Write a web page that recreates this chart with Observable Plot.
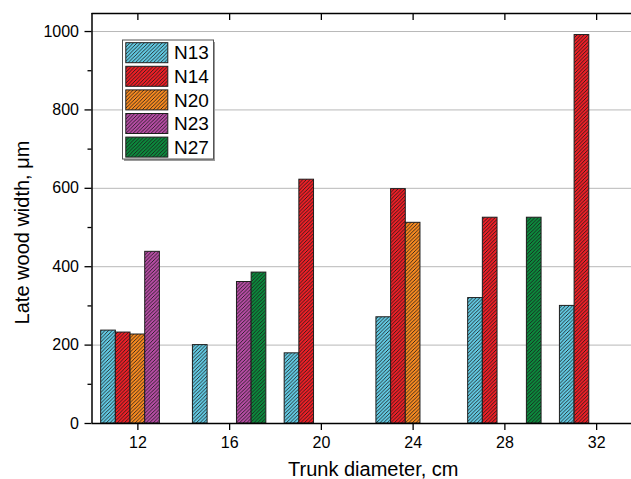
<!DOCTYPE html>
<html>
<head>
<meta charset="utf-8">
<script src="https://cdn.jsdelivr.net/npm/d3@7"></script>
<script src="https://cdn.jsdelivr.net/npm/@observablehq/plot@0.6"></script>
<style>
  html, body { margin: 0; padding: 0; background: white; overflow: hidden; }
  #chart svg { display: block; }
</style>
</head>
<body>
<div id="chart"></div>
<script>
// ---- data ----
const diameters = [12, 16, 20, 24, 28, 32];
const seriesNames = ["N13", "N14", "N20", "N23", "N27"];
const N13 = [237, 200, 179, 271, 320, 300];
const N14 = [232, null, 622, 598, 525, 991];
const N20 = [227, null, null, 512, null, null];
const N23 = [438, 361, null, null, null, null];
const N27 = [null, 385, null, null, 525, null];
const seriesColors = ["#62c9e2", "#ee1f26", "#f88a20", "#b64ca4", "#0c8a3d"];
const yTicks = [0, 200, 400, 600, 800, 1000];
const yMinorTicks = [100, 300, 500, 700, 900];
const xTitle = "Trunk diameter, cm";
const yTitle = "Late wood width, \u03bcm";

const seriesValues = [N13, N14, N20, N23, N27];
const rows = [];
seriesNames.forEach((s, i) => {
  seriesValues[i].forEach((v, j) => {
    if (v != null) rows.push({diameter: diameters[j], series: s, index: i, value: v});
  });
});

const barW = 0.64; // bar width in x units
const yMax = 1046;
const font = "'Liberation Sans', Arial, Helvetica, sans-serif";

const bars = seriesNames.map((s, i) =>
  Plot.rectY(rows.filter(r => r.series === s), {
    x1: r => r.diameter + (r.index - 2.5) * barW,
    x2: r => r.diameter + (r.index - 1.5) * barW,
    y: "value",
    fill: `url(#hatch-${i})`,
    stroke: "#1e1e1e",
    strokeWidth: 1
  })
);

const chart = Plot.plot({
  width: 631,
  height: 479,
  marginLeft: 91.5,
  marginRight: -11,
  marginTop: 13,
  marginBottom: 56,
  x: {domain: [10, 34], range: [91.5, 642]},
  y: {domain: [0, yMax]},
  style: {fontFamily: font, fontSize: "16px", color: "#000", background: "white", overflow: "hidden"},
  marks: [
    Plot.gridY(yTicks.slice(1), {stroke: "#b8b8b8", strokeOpacity: 1, strokeWidth: 1}),
    ...bars,
    Plot.axisY({ticks: yTicks, tickSize: 7, tickPadding: 6, fontSize: 16, label: null, tickFormat: d => String(d), strokeWidth: 1.3}),
    Plot.axisY({ticks: yMinorTicks, tickSize: 4, text: null, label: null, strokeWidth: 1.3}),
    Plot.axisX({ticks: diameters, tickSize: 7, tickPadding: 6, fontSize: 16, label: null, tickFormat: d => String(d), strokeWidth: 1.3}),
    Plot.ruleX(diameters, {insetBottom: 403, strokeWidth: 1.3}),
    Plot.ruleY([0, yMax], {stroke: "#000", strokeWidth: 1.5}),
    Plot.ruleX([10, 34], {stroke: "#000", strokeWidth: 1.5}),
    Plot.text([xTitle], {text: d => d, frameAnchor: "bottom", lineAnchor: "bottom", textAnchor: "middle", dx: 6, dy: 52, fontSize: 20}),
    Plot.text([yTitle], {text: d => d, frameAnchor: "left", lineAnchor: "bottom", textAnchor: "middle", rotate: -90, dx: -63, dy: 14, fontSize: 20})
  ]
});

// hatch patterns
const svg = d3.select(chart);
const defs = svg.insert("defs", ":first-child");
const S = 3.6;
seriesColors.forEach((c, i) => {
  const p = defs.append("pattern")
    .attr("id", `hatch-${i}`)
    .attr("patternUnits", "userSpaceOnUse")
    .attr("width", S).attr("height", S);
  p.append("rect").attr("width", S).attr("height", S).attr("fill", c);
  p.append("path")
    .attr("d", `M${-1},${1} L${1},${-1} M0,${S} L${S},0 M${S - 1},${S + 1} L${S + 1},${S - 1}`)
    .attr("stroke", "#1a1a1a").attr("stroke-width", 0.85);
});

// legend (inside plot area)
const lg = svg.append("g").attr("font-family", font).attr("text-anchor", "start");
const lx = 122.5, ly = 40, lw = 91, lh = 119;
lg.append("rect").attr("x", lx + 1.5).attr("y", ly + 2).attr("width", lw).attr("height", lh).attr("fill", "#9a9a9a");
lg.append("rect").attr("x", lx).attr("y", ly).attr("width", lw).attr("height", lh)
  .attr("fill", "white").attr("stroke", "#555").attr("stroke-width", 1);
seriesNames.forEach((s, i) => {
  const y0 = ly + 2.7 + i * 23.6;
  lg.append("rect").attr("x", lx + 3.3).attr("y", y0).attr("width", 42).attr("height", 20)
    .attr("fill", `url(#hatch-${i})`).attr("stroke", "#1e1e1e").attr("stroke-width", 1);
  lg.append("text").attr("x", lx + 51.5).attr("y", y0 + 10).attr("dy", "0.35em")
    .attr("text-anchor", "start")
    .attr("font-size", 19).attr("fill", "#000").text(s);
});

document.getElementById("chart").appendChild(chart);
</script>
</body>
</html>
